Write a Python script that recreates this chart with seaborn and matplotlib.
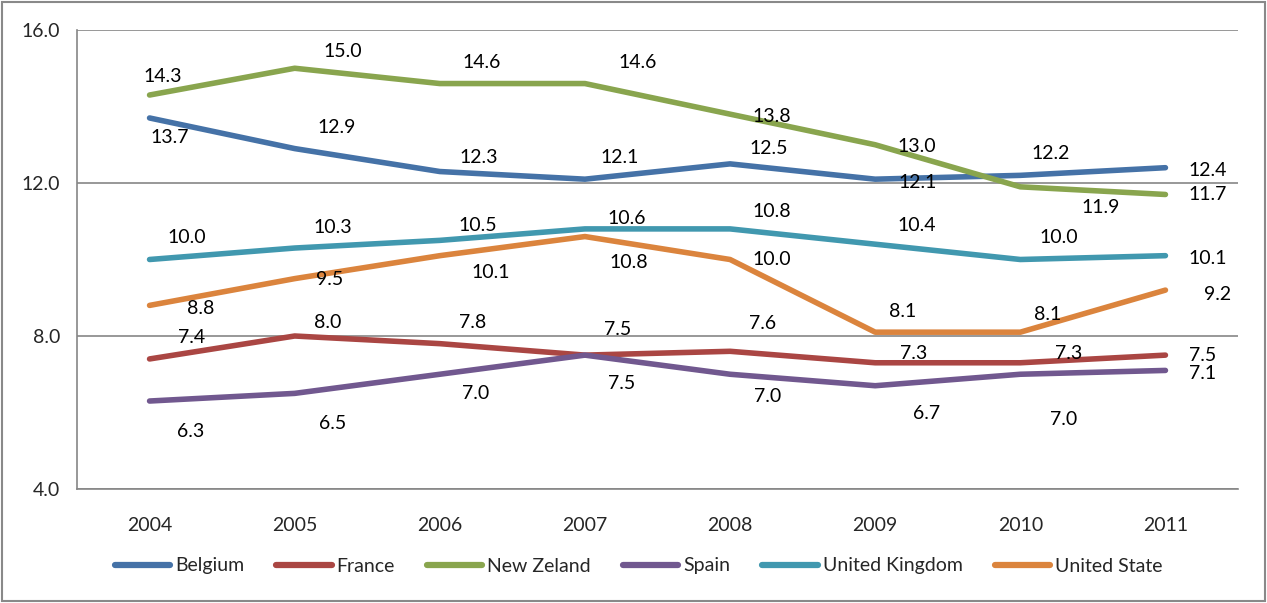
import numpy as np
import pandas as pd
import seaborn as sns
import matplotlib.pyplot as plt
from matplotlib.lines import Line2D
from matplotlib.patches import Rectangle

years = ["2004", "2005", "2006", "2007", "2008", "2009", "2010", "2011"]
countries = ["Belgium", "France", "New Zeland", "Spain", "United Kingdom", "United State"]

belgium = [13.7, 12.9, 12.3, 12.1, 12.5, 12.1, 12.2, 12.4]
france = [7.4, 8.0, 7.8, 7.5, 7.6, 7.3, 7.3, 7.5]
new_zeland = [14.3, 15.0, 14.6, 14.6, 13.8, 13.0, 11.9, 11.7]
spain = [6.3, 6.5, 7.0, 7.5, 7.0, 6.7, 7.0, 7.1]
united_kingdom = [10.0, 10.3, 10.5, 10.8, 10.8, 10.4, 10.0, 10.1]
united_state = [8.8, 9.5, 10.1, 10.6, 10.0, 8.1, 8.1, 9.2]

series = [belgium, france, new_zeland, spain, united_kingdom, united_state]
colors = ["#4572A7", "#AA4643", "#89A54E", "#71588F", "#4198AF", "#DB843D"]

# data label offsets in pixels (dx right, dy down) - hand placed like the excel chart
label_offsets = [
    [(20, 20), (42, -21), (39, -14), (35, -22), (39, -15), (42, 3), (30, -22), (42, 3)],
    [(42, -21), (33, -13), (33, -21), (33, -26), (32, -28), (38, -9), (48, -9), (37, 0)],
    [(13, -19), (48, -17), (42, -21), (53, -21), (42, 2), (42, 2), (80, 21), (42, 0)],
    [(41, 30), (38, 30), (36, 19), (37, 28), (38, 22), (51, 28), (43, 45), (37, 3)],
    [(37, -22), (38, -21), (38, -15), (44, 34), (42, -17), (42, -19), (38, -22), (42, 3)],
    [(51, 3), (35, 1), (51, 17), (42, -18), (42, 0), (27, -21), (27, -18), (52, 4)],
]

rows = []
for name, vals in zip(countries, series):
    for i, v in enumerate(vals):
        rows.append({"x": i, "value": v, "country": name})
df = pd.DataFrame(rows)

sns.set_style("white")
plt.rcParams["font.family"] = ["Lato", "DejaVu Sans"]

W, H = 1267, 603
fs = 14
fig = plt.figure(figsize=(W / 100, H / 100), dpi=100)
ax = fig.add_axes([77 / W, 1 - 489 / H, (1238 - 77) / W, (489 - 30) / H])

sns.lineplot(data=df, x="x", y="value", hue="country", hue_order=countries,
             palette=colors, linewidth=4, legend=False, ax=ax,
             solid_capstyle="round", solid_joinstyle="round")

for vals, offs in zip(series, label_offsets):
    for i, v in enumerate(vals):
        dx, dy = offs[i]
        ax.annotate(f"{v:.1f}", (i, v), xytext=(dx, -dy), textcoords="offset pixels",
                    ha="center", va="center", fontsize=fs, color="black")

ax.set_xlim(-0.5, 7.5)
ax.set_ylim(4, 16)
ax.set_yticks([4, 8, 12, 16])
ax.set_yticklabels([f"{t:.1f}" for t in [4, 8, 12, 16]])
ax.set_xticks(range(len(years)))
ax.set_xticklabels(years)
ax.set_xticks(np.arange(-0.5, 8, 1), minor=True)
ax.tick_params(axis="x", which="major", length=0, pad=20, labelsize=fs)
ax.tick_params(axis="x", which="minor", length=6, width=1.2, color="#868686", direction="out")
ax.tick_params(axis="y", length=7, width=1.2, color="#868686", pad=5, labelsize=fs)
ax.set_xlabel("")
ax.set_ylabel("")

ax.yaxis.grid(True, color="#868686", linewidth=1.2)
ax.set_axisbelow(True)
for side in ["top", "right"]:
    ax.spines[side].set_visible(False)
for side in ["left", "bottom"]:
    ax.spines[side].set_color("#868686")
    ax.spines[side].set_linewidth(1.2)

handles = [Line2D([0], [0], color=c, lw=4.5, solid_capstyle="round") for c in colors]
fig.legend(handles, countries, loc="center", bbox_to_anchor=(0.504, 1 - 566 / H),
           ncol=6, frameon=False, fontsize=fs, handlelength=2.85, handletextpad=0.25,
           columnspacing=1.65)

fig.patches.append(Rectangle((2 / W, 2 / H), 1 - 4 / W, 1 - 4 / H, transform=fig.transFigure,
                             fill=False, edgecolor="#898989", linewidth=1.5))

fig.savefig("out.png", dpi=100)
